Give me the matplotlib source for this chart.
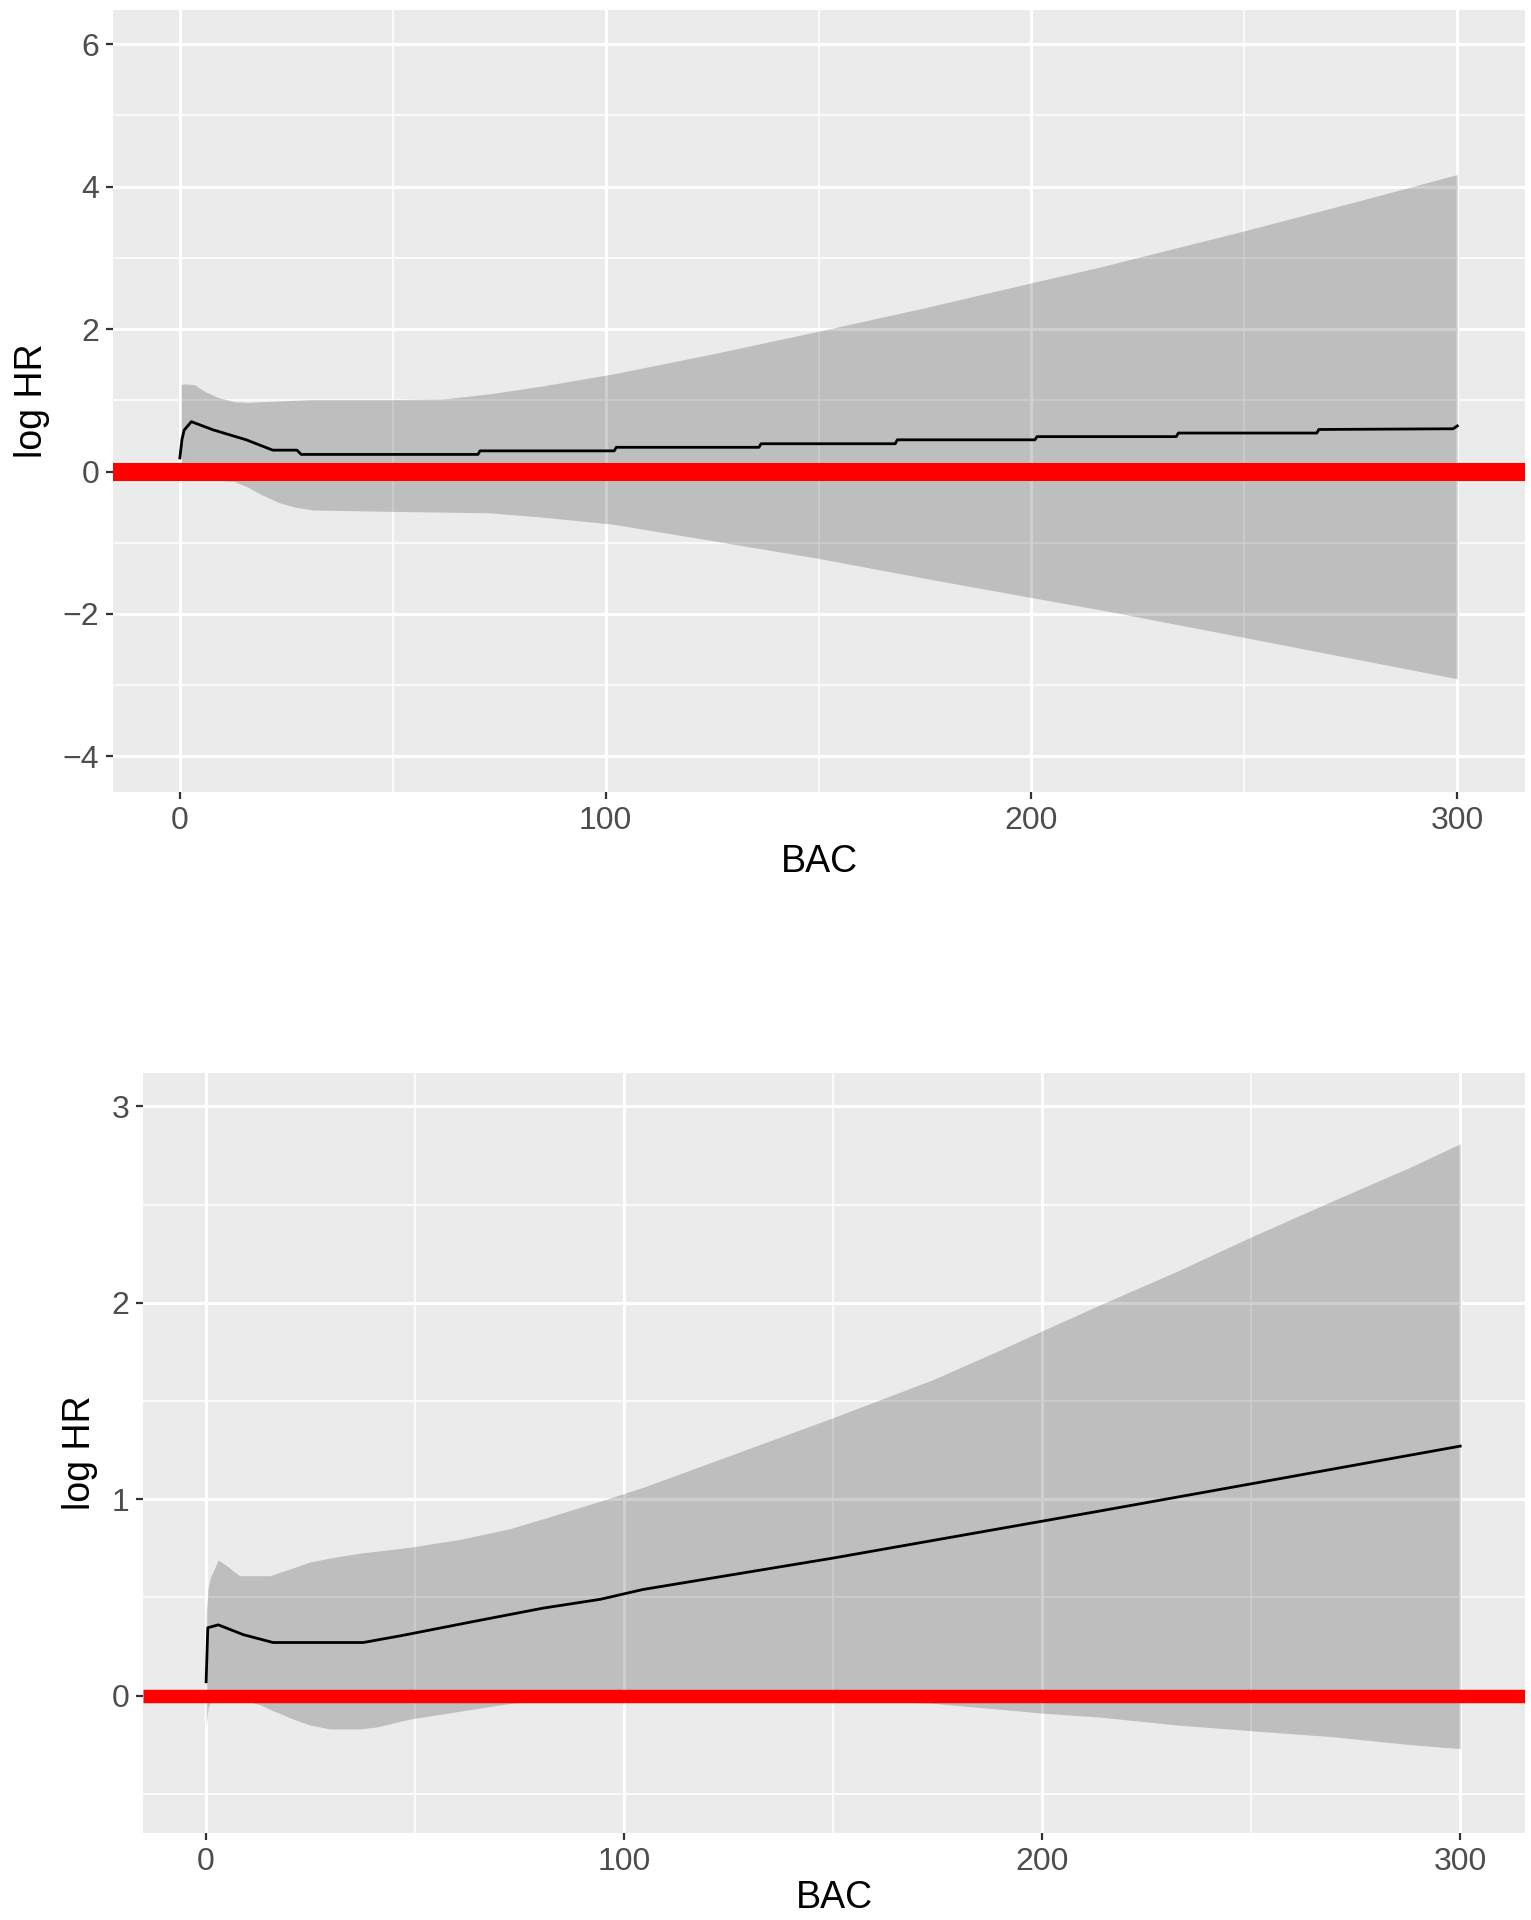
import numpy as np
import matplotlib
matplotlib.use("Agg")
import matplotlib.pyplot as plt

plt.rcParams['font.family'] = ['Liberation Sans', 'DejaVu Sans']

# top panel: log HR vs BAC
top_band_x = [0.3, 1, 3.4, 6, 9, 12.8, 16, 19, 23.4, 27, 31.2, 40, 50, 62, 72.7,
              85, 101.7, 125, 150, 175, 200, 216, 250, 275, 300]
top_upper = [1.22, 1.23, 1.22, 1.12, 1.04, 0.98, 0.97, 0.98, 0.99, 1.0, 1.01, 1.01,
             1.01, 1.02, 1.09, 1.2, 1.37, 1.65, 1.97, 2.30, 2.65, 2.87, 3.38, 3.77, 4.17]
top_lower = [-0.12, -0.12, -0.12, -0.12, -0.12, -0.14, -0.22, -0.32, -0.44, -0.50,
             -0.54, -0.55, -0.56, -0.57, -0.58, -0.64, -0.74, -0.97, -1.22, -1.50,
             -1.77, -1.94, -2.33, -2.62, -2.91]
top_mean_x = [0, 0.5, 1, 2.7, 7.8, 15.6, 21.8, 27.5, 28.5, 70, 70.5, 102, 102.5,
              136, 136.5, 168, 168.5, 200.8, 201.3, 234, 234.5, 267, 267.5, 299, 300]
top_mean = [0.19, 0.45, 0.58, 0.70, 0.585, 0.445, 0.30, 0.30, 0.24, 0.24, 0.29, 0.29,
            0.34, 0.34, 0.39, 0.39, 0.445, 0.445, 0.49, 0.49, 0.54, 0.54, 0.59, 0.60, 0.64]

# bottom panel
bot_band_x = [0, 0.5, 1, 2.9, 5, 8, 12.8, 15.2, 20.8, 24.8, 29.6, 36.8, 40.8, 48.7,
              60.7, 72.7, 80.6, 94.3, 104.5, 125, 150, 174, 190, 200.3, 213.9, 232.2,
              250.5, 269.6, 288, 300]
bot_upper = [0.42, 0.55, 0.60, 0.69, 0.66, 0.61, 0.61, 0.61, 0.65, 0.68, 0.70, 0.725,
             0.735, 0.755, 0.795, 0.85, 0.90, 0.99, 1.06, 1.22, 1.415, 1.61, 1.76, 1.86,
             1.99, 2.16, 2.34, 2.52, 2.69, 2.81]
bot_lower = [-0.156, -0.06, -0.03, -0.02, -0.02, -0.02, -0.046, -0.07, -0.12, -0.15,
             -0.17, -0.17, -0.16, -0.12, -0.08, -0.04, -0.025, -0.01, -0.005, -0.005,
             -0.02, -0.04, -0.07, -0.09, -0.11, -0.15, -0.18, -0.21, -0.25, -0.27]
bot_mean_x = [0, 0.4, 2.9, 8.9, 16, 37.6, 46.7, 52.7, 64.7, 80.6, 94.3, 104.5, 150,
              213.9, 250.5, 300]
bot_mean = [0.07, 0.345, 0.36, 0.31, 0.27, 0.27, 0.305, 0.33, 0.38, 0.445, 0.49, 0.54,
            0.70, 0.94, 1.08, 1.27]

x_major = [0, 100, 200, 300]
x_minor = [50, 150, 250]

W, H = 1531, 1920
fig = plt.figure(figsize=(W / 100, H / 100), dpi=100)


def panel(rect_px, band_x, lo, hi, mx, my, ylim, ymaj, ymin, xlim, red_lw, ylab_x, xlab_y):
    l, t, r, b = rect_px
    ax = fig.add_axes([l / W, 1 - b / H, (r - l) / W, (b - t) / H])
    ax.set_facecolor('#EBEBEB')
    for s in ax.spines.values():
        s.set_visible(False)
    ax.set_xlim(*xlim)
    ax.set_ylim(*ylim)
    ax.set_xticks(x_major)
    ax.set_xticks(x_minor, minor=True)
    ax.set_yticks(ymaj)
    ax.set_yticks(ymin, minor=True)
    ax.set_yticklabels([str(v).replace('-', '\u2212') for v in ymaj])
    ax.grid(which='major', color='white', lw=2.2, zorder=0)
    ax.grid(which='minor', color='white', lw=1.1, zorder=0)
    ax.set_axisbelow(True)
    ax.tick_params(which='major', length=5, width=1.6, color='#333333',
                   labelsize=23, labelcolor='#4D4D4D', pad=5)
    ax.tick_params(which='minor', length=0)
    ax.fill_between(band_x, lo, hi, color='black', alpha=0.19, lw=0, zorder=2)
    ax.plot(mx, my, color='black', lw=2.0, zorder=3)
    ax.axhline(0, color='#FF0000', lw=red_lw, solid_capstyle='butt', zorder=4)
    ax.set_xlabel('BAC', fontsize=27)
    ax.set_ylabel('log HR', fontsize=27)
    ax.xaxis.set_label_coords(0.5, -(xlab_y - b) / (b - t))
    ax.yaxis.set_label_coords(-(l - ylab_x) / (r - l), 0.5)
    ax.xaxis.label.set(va='center')
    ax.yaxis.label.set(ha='center', va='center', rotation_mode='default')
    return ax


panel((113, 10, 1525, 792), top_band_x, top_lower, top_upper, top_mean_x, top_mean,
      (-4.5, 6.48), [-4, -2, 0, 2, 4, 6], [-3, -1, 1, 3, 5], (-15.7, 315.9), 13.0, 32, 862)
panel((143, 1073, 1525, 1833), bot_band_x, bot_lower, bot_upper, bot_mean_x, bot_mean,
      (-0.70, 3.17), [0, 1, 2, 3], [-0.5, 0.5, 1.5, 2.5], (-15.1, 315.5), 9.7, 80, 1898)

fig.savefig('out.png', dpi=100)
